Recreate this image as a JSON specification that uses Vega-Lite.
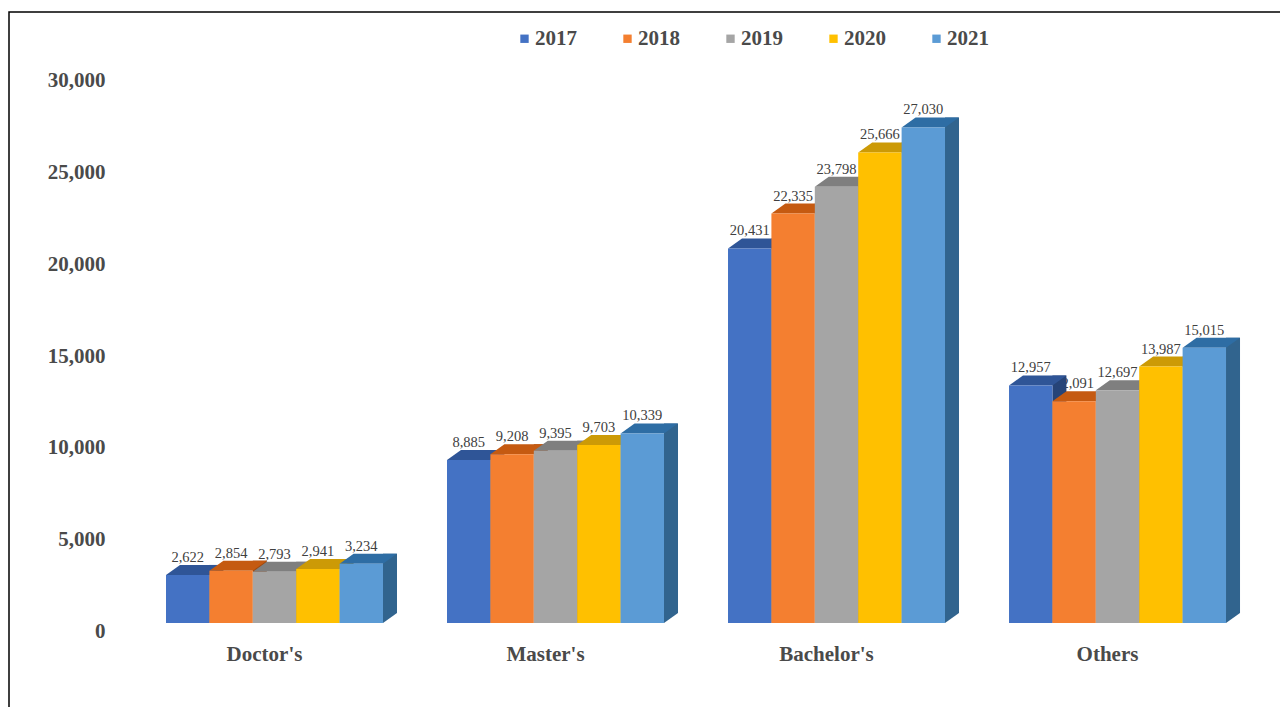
{"$schema":"https://vega.github.io/schema/vega-lite/v6.json","width":1272,"height":696,"padding":{"left":9,"top":12,"right":-1,"bottom":-1},"autosize":"none","background":"white","view":{"stroke":"#000000","strokeWidth":1.5,"fill":"white"},"data":{"values":[
{"cat":"Doctor's","year":"2017","value":2622},{"cat":"Doctor's","year":"2018","value":2854},{"cat":"Doctor's","year":"2019","value":2793},{"cat":"Doctor's","year":"2020","value":2941},{"cat":"Doctor's","year":"2021","value":3234},
{"cat":"Master's","year":"2017","value":8885},{"cat":"Master's","year":"2018","value":9208},{"cat":"Master's","year":"2019","value":9395},{"cat":"Master's","year":"2020","value":9703},{"cat":"Master's","year":"2021","value":10339},
{"cat":"Bachelor's","year":"2017","value":20431},{"cat":"Bachelor's","year":"2018","value":22335},{"cat":"Bachelor's","year":"2019","value":23798},{"cat":"Bachelor's","year":"2020","value":25666},{"cat":"Bachelor's","year":"2021","value":27030},
{"cat":"Others","year":"2017","value":12957},{"cat":"Others","year":"2018","value":12091},{"cat":"Others","year":"2019","value":12697},{"cat":"Others","year":"2020","value":13987},{"cat":"Others","year":"2021","value":15015}
]},
"encoding":{
"x":{"field":"cat","type":"nominal","sort":null,"title":null,"scale":{"paddingInner":0.2278,"paddingOuter":0.3772,"align":0.7406},"axis":{"orient":"bottom","offset":-65,"domain":false,"ticks":false,"labelAngle":0,"labelOffset":-10,"labelFont":"Liberation Serif","labelFontWeight":"bold","labelFontSize":21,"labelColor":"#4a4a4a","labelPadding":0}},
"y":{"field":"value","type":"quantitative","title":null,"scale":{"domain":[-4636,33327],"nice":false,"zero":false},"axis":{"orient":"left","offset":-96,"values":[0,5000,10000,15000,20000,25000,30000],"format":",.0f","domain":false,"ticks":false,"grid":false,"labelOffset":8,"labelFont":"Liberation Serif","labelFontWeight":"bold","labelFontSize":21,"labelColor":"#4a4a4a","labelPadding":0}},
"xOffset":{"field":"year","type":"nominal"}
},
"layer":[
{"mark":{"type":"text","font":"Liberation Serif","fontSize":14.5,"color":"#404040","dy":-17},"encoding":{"text":{"field":"value","type":"quantitative","format":",.0f"}}},
{"mark":{"type":"bar","width":14,"yOffset":-10,"y2Offset":-10},"encoding":{"y2":{"datum":0},"xOffset":{"field":"year","type":"nominal","scale":{"range":[28.7,245.7]}},"color":{"field":"year","type":"nominal","legend":null,"scale":{"range":["#264478","#9E480E","#636363","#997300","#31648E"]}}}},
{"mark":{"type":"point","filled":true,"opacity":1,"size":4,"shape":"M21.7,0 L35.7,-10 L21.7,-10 Z"},"encoding":{"y":{"datum":0},"color":{"field":"year","type":"nominal","legend":null,"scale":{"range":["#264478","#9E480E","#636363","#997300","#31648E"]}}}},
{"mark":{"type":"point","filled":true,"opacity":1,"size":4,"shape":"M-21.7,0 L21.7,0 L35.7,-10 L-7.7,-10 Z"},"encoding":{"color":{"field":"year","type":"nominal","legend":null,"scale":{"range":["#2F5597","#C55A11","#7F7F7F","#CC9A06","#2E6DA4"]}}}},
{"mark":{"type":"bar"},"encoding":{"y2":{"datum":0},"color":{"field":"year","type":"nominal","title":null,"scale":{"range":["#4472C4","#F47F30","#A5A5A5","#FFC000","#5B9BD5"]},"legend":{"orient":"none","legendX":505,"legendY":16,"direction":"horizontal","columns":5,"symbolType":"square","symbolSize":70,"labelFont":"Liberation Serif","labelFontWeight":"bold","labelFontSize":21,"labelColor":"#4a4a4a","labelOffset":0,"columnPadding":40,"title":null}}}}
],
"resolve":{"scale":{"color":"independent","xOffset":"independent"}}
}
